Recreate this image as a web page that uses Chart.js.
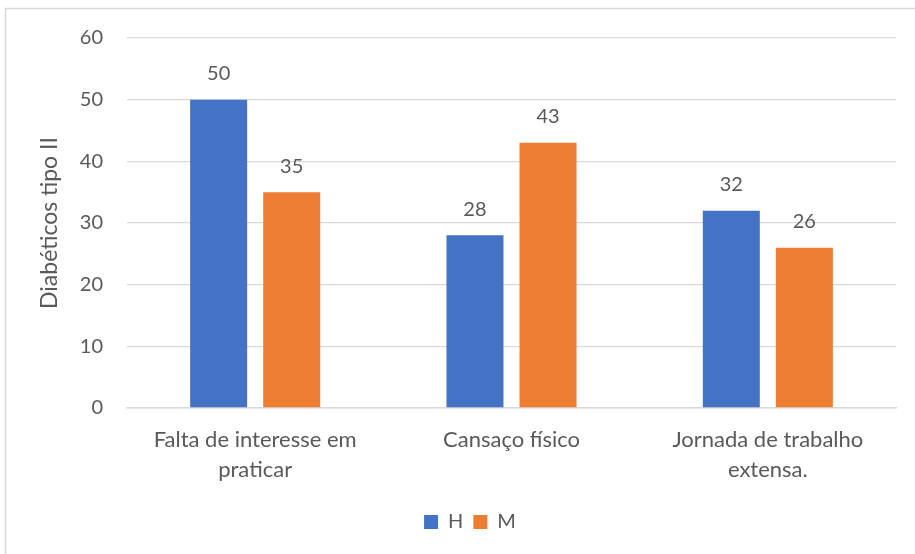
<!DOCTYPE html>
<html>
<head>
<meta charset="utf-8">
<script src="https://cdn.jsdelivr.net/npm/chart.js@4/dist/chart.umd.min.js"></script>
<style>
  html, body { margin: 0; padding: 0; background: #ffffff; }
  #wrap { position: relative; width: 915px; height: 554px; }
</style>
</head>
<body>
<div id="wrap"><canvas id="c" width="915" height="554"></canvas></div>
<script>
const categories = [["Falta de interesse em", "praticar"], "Cansaço físico", ["Jornada de trabalho", "extensa."]];
const seriesNames = ["H", "M"];
const valuesH = [50, 28, 32];
const valuesM = [35, 43, 26];
const yTicks = [0, 10, 20, 30, 40, 50, 60];
const yTitle = "Diabéticos tipo II";

const FONT = "Lato, 'Open Sans', sans-serif";
const TEXT = "#595959";
const GRID = "#d9d9d9";

const framePlugin = {
  id: 'frame',
  beforeDraw(chart) {
    const ctx = chart.ctx;
    ctx.save();
    ctx.fillStyle = '#ffffff';
    ctx.fillRect(0, 0, chart.width, chart.height);
    ctx.strokeStyle = GRID;
    ctx.lineWidth = 1.5;
    ctx.beginPath();
    ctx.moveTo(5.5, chart.height);
    ctx.lineTo(5.5, 8.5);
    ctx.lineTo(chart.width, 8.5);
    ctx.stroke();
    ctx.restore();
  }
};

const labelPlugin = {
  id: 'valueLabels',
  afterDatasetsDraw(chart) {
    const ctx = chart.ctx;
    ctx.save();
    ctx.font = "20px " + FONT;
    ctx.fillStyle = TEXT;
    ctx.textAlign = 'center';
    ctx.textBaseline = 'middle';
    chart.data.datasets.forEach((ds, i) => {
      const meta = chart.getDatasetMeta(i);
      meta.data.forEach((bar, j) => {
        ctx.fillText(String(ds.data[j]), bar.x, bar.y - 26);
      });
    });
    ctx.restore();
  }
};

new Chart(document.getElementById('c'), {
  type: 'bar',
  data: {
    labels: categories,
    datasets: [
      { label: seriesNames[0], data: valuesH, backgroundColor: '#4472C4', categoryPercentage: 0.57, barPercentage: 0.78 },
      { label: seriesNames[1], data: valuesM, backgroundColor: '#ED7D31', categoryPercentage: 0.57, barPercentage: 0.78 }
    ]
  },
  options: {
    responsive: false,
    animation: false,
    devicePixelRatio: 1,
    layout: { padding: { left: 44, right: 19, top: 38, bottom: 12 } },
    plugins: {
      legend: {
        position: 'bottom',
        labels: {
          boxWidth: 14, boxHeight: 14, padding: 10,
          color: TEXT,
          font: { family: FONT, size: 20 }
        }
      },
      tooltip: { enabled: false }
    },
    scales: {
      x: {
        grid: { display: false, drawTicks: false },
        border: { display: true, color: GRID, width: 1.5 },
        ticks: {
          color: TEXT, padding: 17, maxRotation: 0, autoSkip: false,
          font: { family: FONT, size: 22, lineHeight: '30px' }
        },
        afterFit(scale) { scale.height = 94; }
      },
      y: {
        min: 0, max: 60,
        afterBuildTicks(scale) { scale.ticks = yTicks.map(v => ({ value: v })); },
        grid: { color: GRID, lineWidth: 1.3, drawTicks: false },
        border: { display: false },
        ticks: {
          color: TEXT, padding: 24,
          font: { family: FONT, size: 20 }
        },
        title: {
          display: true, text: yTitle, color: TEXT,
          font: { family: FONT, size: 23 },
          padding: { top: -8.5, bottom: 0 }
        },
        afterFit(scale) { scale.width = 83; }
      }
    }
  },
  plugins: [framePlugin, labelPlugin]
});
</script>
</body>
</html>
